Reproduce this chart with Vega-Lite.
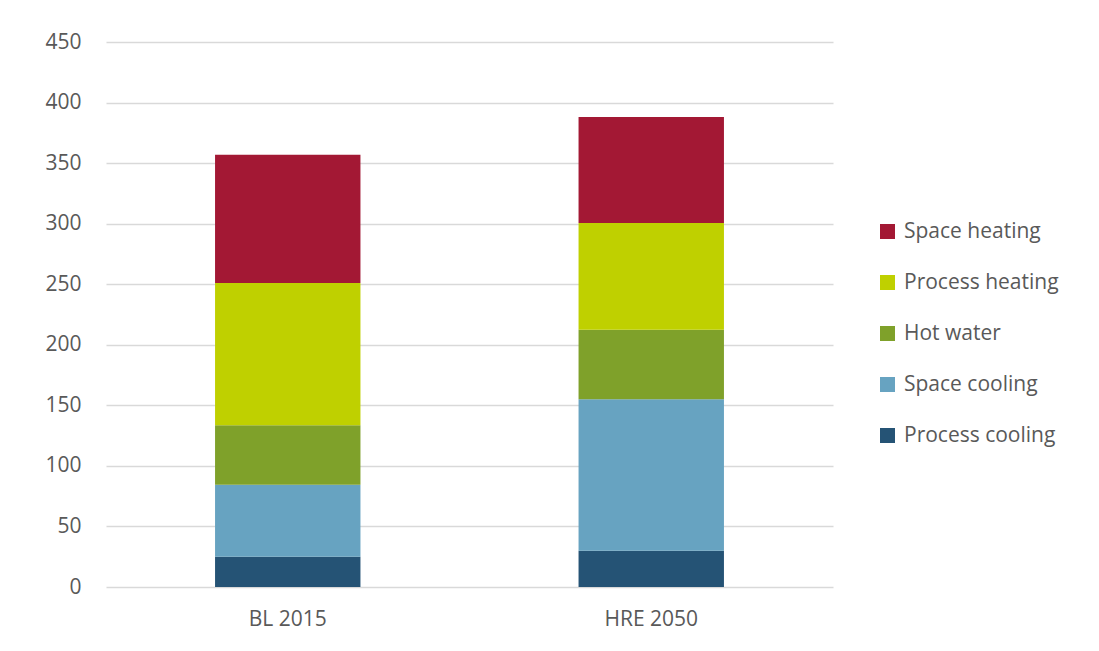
{
  "$schema": "https://vega.github.io/schema/vega-lite/v6.json",
  "autosize": {"type": "none"},
  "width": 727,
  "height": 545,
  "padding": {"left": 106, "top": 42, "right": 266, "bottom": 64},
  "background": "white",
  "data": {
    "values": [
      {"scenario": "BL 2015", "category": "Process cooling", "rank": 1, "value": 25},
      {"scenario": "BL 2015", "category": "Space cooling", "rank": 2, "value": 59.5},
      {"scenario": "BL 2015", "category": "Hot water", "rank": 3, "value": 49},
      {"scenario": "BL 2015", "category": "Process heating", "rank": 4, "value": 117.5},
      {"scenario": "BL 2015", "category": "Space heating", "rank": 5, "value": 106},
      {"scenario": "HRE 2050", "category": "Process cooling", "rank": 1, "value": 30},
      {"scenario": "HRE 2050", "category": "Space cooling", "rank": 2, "value": 125},
      {"scenario": "HRE 2050", "category": "Hot water", "rank": 3, "value": 57.5},
      {"scenario": "HRE 2050", "category": "Process heating", "rank": 4, "value": 88},
      {"scenario": "HRE 2050", "category": "Space heating", "rank": 5, "value": 87.5}
    ]
  },
  "mark": {"type": "bar"},
  "encoding": {
    "x": {
      "field": "scenario",
      "type": "nominal",
      "sort": null,
      "scale": {"paddingInner": 0.6, "paddingOuter": 0.3},
      "axis": {
        "title": null,
        "labelAngle": 0,
        "domain": false,
        "ticks": false,
        "grid": false,
        "labelPadding": 21,
        "labelFont": "Open Sans",
        "labelFontSize": 21,
        "labelColor": "#595959"
      }
    },
    "y": {
      "field": "value",
      "type": "quantitative",
      "stack": "zero",
      "scale": {"domain": [0, 450], "nice": false},
      "axis": {
        "title": null,
        "values": [0, 50, 100, 150, 200, 250, 300, 350, 400, 450],
        "domain": false,
        "ticks": false,
        "labelPadding": 25,
        "labelFont": "Open Sans",
        "labelFontSize": 21,
        "labelColor": "#595959",
        "gridColor": "#d9d9d9",
        "gridWidth": 1.5
      }
    },
    "color": {
      "field": "category",
      "type": "nominal",
      "scale": {
        "domain": ["Space heating", "Process heating", "Hot water", "Space cooling", "Process cooling"],
        "range": ["#A31834", "#BFD000", "#7FA12A", "#67A3C1", "#255375"]
      },
      "legend": {
        "title": null,
        "orient": "none",
        "legendX": 771,
        "legendY": 179,
        "symbolType": "square",
        "symbolSize": 225,
        "symbolStrokeWidth": 0,
        "symbolOpacity": 1,
        "labelFont": "Open Sans",
        "labelFontSize": 21,
        "labelColor": "#595959",
        "labelOffset": 6,
        "rowPadding": 29,
        "labelLimit": 300
      }
    },
    "order": {"field": "rank", "type": "quantitative", "sort": "ascending"}
  },
  "config": {
    "view": {"stroke": null}
  }
}
